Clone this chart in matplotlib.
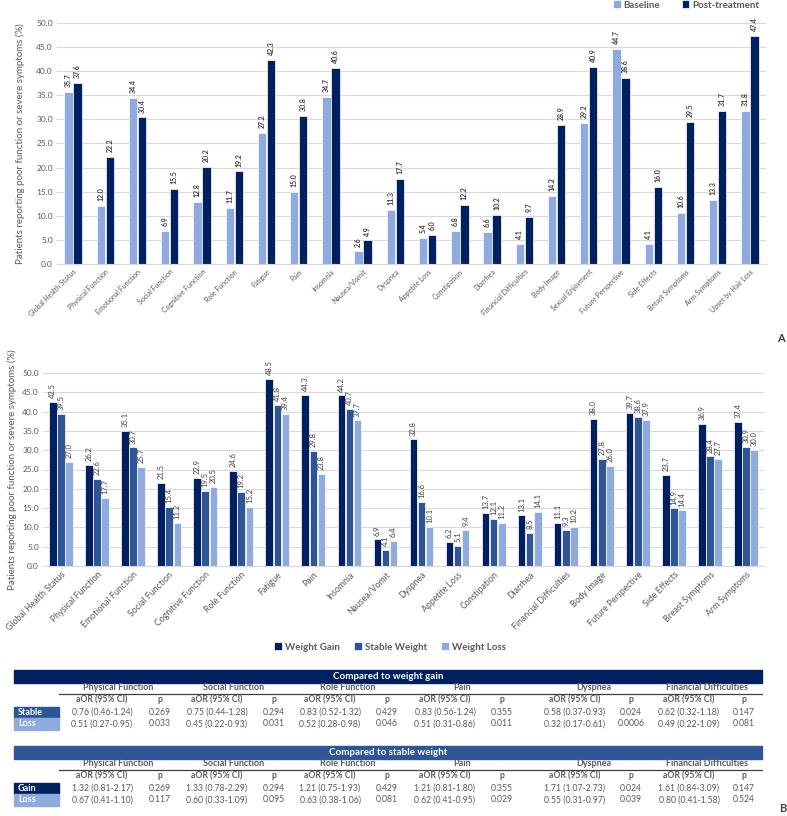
"""Baseline vs post-treatment QoL bars, weight-change bars and aOR tables."""
import numpy as np
import matplotlib
matplotlib.use("Agg")
import matplotlib.pyplot as plt
from matplotlib.patches import Rectangle

plt.rcParams["font.family"] = ["Lato", "DejaVu Sans"]

NAVY, MID, LIGHT = "#002060", "#2F5597", "#8FAADC"
GREY, GRID = "#595959", "#D9D9D9"

# ---- panel A data
cats_a = ["Global Health Status", "Physical Function", "Emotional Function", "Social Function",
          "Cognitive Function", "Role Function", "Fatigue", "Pain", "Insomnia", "Nausea/Vomit",
          "Dyspnea", "Appetite Loss", "Constipation", "Diarrhea", "Financial Difficulties",
          "Body Image", "Sexual Enjoyment", "Future Perspective", "Side Effects",
          "Breast Symptoms", "Arm Symptoms", "Upset by Hair Loss"]
baseline = [35.7, 12.0, 34.4, 6.9, 12.8, 11.7, 27.2, 15.0, 34.7, 2.6, 11.3,
            5.4, 6.8, 6.6, 4.1, 14.2, 29.2, 44.7, 4.1, 10.6, 13.3, 31.8]
post = [37.6, 22.2, 30.4, 15.5, 20.2, 19.2, 42.3, 30.8, 40.6, 4.9, 17.7,
        6.0, 12.2, 10.2, 9.7, 28.9, 40.9, 38.6, 16.0, 29.5, 31.7, 47.4]

# ---- panel B data
cats_b = ["Global Health Status", "Physical Function", "Emotional Function", "Social Function",
          "Cognitive Function", "Role Function", "Fatigue", "Pain", "Insomnia", "Nausea/Vomit",
          "Dyspnea", "Appetite Loss", "Constipation", "Diarrhea", "Financial Difficulties",
          "Body Image", "Future Perspective", "Side Effects", "Breast Symptoms", "Arm Symptoms"]
gain = [42.5, 26.2, 35.1, 21.5, 22.9, 24.6, 48.5, 44.3, 44.2, 6.9,
        32.8, 6.2, 13.7, 13.1, 11.1, 38.0, 39.7, 23.7, 36.9, 37.4]
stable = [39.5, 22.6, 30.7, 15.4, 19.5, 19.2, 41.8, 29.8, 40.7, 4.1,
          16.6, 5.1, 12.1, 8.5, 9.3, 27.8, 38.6, 14.9, 28.4, 30.9]
loss = [27.0, 17.7, 25.7, 11.2, 20.5, 15.2, 39.4, 23.8, 37.7, 6.4,
        10.1, 9.4, 11.2, 14.1, 10.2, 26.0, 37.9, 14.4, 27.7, 30.0]

# ---- tables
domains = ["Physical Function", "Social Function", "Role Function", "Pain", "Dyspnea",
           "Financial Difficulties"]
t1_rows = ["Stable", "Loss"]
t1_aor = [["0.76 (0.46-1.24)", "0.75 (0.44-1.28)", "0.83 (0.52-1.32)", "0.83 (0.56-1.24)",
           "0.58 (0.37-0.93)", "0.62 (0.32-1.18)"],
          ["0.51 (0.27-0.95)", "0.45 (0.22-0.93)", "0.52 (0.28-0.98)", "0.51 (0.31-0.86)",
           "0.32 (0.17-0.61)", "0.49 (0.22-1.09)"]]
t1_p = [["0.269", "0.294", "0.429", "0.355", "0.024", "0.147"],
        ["0.033", "0.031", "0.046", "0.011", "0.0006", "0.081"]]
t2_rows = ["Gain", "Loss"]
t2_aor = [["1.32 (0.81-2.17)", "1.33 (0.78-2.29)", "1.21 (0.75-1.93)", "1.21 (0.81-1.80)",
           "1.71 (1.07-2.73)", "1.61 (0.84-3.09)"],
          ["0.67 (0.41-1.10)", "0.60 (0.33-1.09)", "0.63 (0.38-1.06)", "0.62 (0.41-0.95)",
           "0.55 (0.31-0.97)", "0.80 (0.41-1.58)"]]
t2_p = [["0.269", "0.294", "0.429", "0.355", "0.024", "0.147"],
        ["0.117", "0.095", "0.081", "0.029", "0.039", "0.524"]]

W, H = 787, 816
fig = plt.figure(figsize=(W / 100, H / 100), dpi=100)


def fx(px):
    return px / W


def fy(py):
    return 1 - py / H


def style_axes(ax, cats, fs):
    ax.set_ylim(0, 50)
    ax.set_yticks(np.arange(0, 50.1, 5))
    ax.set_yticklabels([f"{v:.1f}" for v in np.arange(0, 50.1, 5)], fontsize=6, color=GREY)
    ax.set_xlim(-0.5, len(cats) - 0.5)
    ax.set_xticks(range(len(cats)))
    ax.set_xticklabels(cats, rotation=45, ha="right", rotation_mode="anchor",
                       fontsize=fs, color=GREY)
    ax.tick_params(length=0, pad=3)
    ax.grid(axis="y", color=GRID, lw=0.8)
    ax.set_axisbelow(True)
    for s in ["top", "right", "left"]:
        ax.spines[s].set_visible(False)
    ax.spines["bottom"].set_color(GRID)
    ax.set_ylabel("Patients reporting poor function or severe symptoms (%)",
                  fontsize=7, color=GREY)


def bar_labels(ax, xs, vals, bold, fs):
    for x, v in zip(xs, vals):
        ax.text(x, v + 1.0, f"{v:.1f}", rotation=90, ha="center", va="bottom",
                fontsize=fs, color="#404040", fontweight="bold" if bold else "normal")


# ---- panel A
axA = fig.add_axes([fx(57), fy(264), fx(766 - 57), (264 - 23) / H])
x = np.arange(len(cats_a))
bw = 0.26
axA.bar(x - bw / 2 - 0.01, baseline, bw, color=LIGHT, edgecolor="white", lw=0.5, label="Baseline")
axA.bar(x + bw / 2 + 0.01, post, bw, color=NAVY, edgecolor="white", lw=0.5, label="Post-treatment")
bar_labels(axA, x - bw / 2 - 0.01, baseline, True, 5)
bar_labels(axA, x + bw / 2 + 0.01, post, True, 5)
style_axes(axA, cats_a, 5)
axA.yaxis.labelpad = 8
fig.legend(*axA.get_legend_handles_labels(), loc="center", bbox_to_anchor=(fx(686), fy(5)),
           ncol=2, frameon=False, handlelength=0.8, handleheight=0.8,
           handletextpad=0.3, columnspacing=2.2, labelcolor=GREY,
           prop={"weight": "bold", "size": 7})
fig.text(fx(781), fy(338), "A", fontsize=8, fontweight="bold", color="#404040",
         ha="center", va="center")

# ---- panel B
axB = fig.add_axes([fx(43), fy(566), fx(764 - 43), (566 - 373) / H])
x = np.arange(len(cats_b))
bw = 0.21
off = 0.225
axB.bar(x - off, gain, bw, color=NAVY, edgecolor="white", lw=0.5, label="Weight Gain")
axB.bar(x, stable, bw, color=MID, edgecolor="white", lw=0.5, label="Stable Weight")
axB.bar(x + off, loss, bw, color=LIGHT, edgecolor="white", lw=0.5, label="Weight Loss")
bar_labels(axB, x - off, gain, False, 5.5)
bar_labels(axB, x, stable, False, 5.5)
bar_labels(axB, x + off, loss, False, 5.5)
style_axes(axB, cats_b, 6.3)
axB.yaxis.labelpad = 4
fig.legend(*axB.get_legend_handles_labels(), loc="center", bbox_to_anchor=(fx(390), fy(647)),
           ncol=3, frameon=False, handlelength=0.8, handleheight=0.8,
           handletextpad=0.3, columnspacing=1.5, labelcolor=GREY,
           prop={"weight": "bold", "size": 7})


# ---- tables (drawn in figure pixel coordinates)
grp_x = [118, 234, 348, 462, 594, 707]
aor_x = [102, 217, 330, 445, 575, 689]
p_x = [160, 274, 387, 502, 631, 744]


def draw_table(top, title, head_col, rows, row_cols, aor, pv):
    fig.patches.append(Rectangle((fx(14), fy(top + 13)), fx(762 - 14), 13 / H,
                                 transform=fig.transFigure, color=head_col))
    fig.text(fx(388), fy(top + 6.5), title, ha="center", va="center", fontsize=7,
             fontweight="bold", color="white")
    for gx, d in zip(grp_x, domains):
        fig.text(fx(gx), fy(top + 18), d, ha="center", va="center", fontsize=6.5,
                 fontweight="bold", color=GREY)
    fig.add_artist(plt.Line2D([fx(59), fx(762)], [fy(top + 24), fy(top + 24)],
                              color="#404040", lw=0.9))
    for ax_, px_ in zip(aor_x, p_x):
        fig.text(fx(ax_), fy(top + 30), "aOR (95% CI)", ha="center", va="center",
                 fontsize=6.2, fontweight="bold", color=GREY)
        fig.text(fx(px_), fy(top + 30), "p", ha="center", va="center",
                 fontsize=6.2, fontweight="bold", color=GREY)
    for i, (rname, rc) in enumerate(zip(rows, row_cols)):
        yc = top + 42.5 + 11.5 * i
        fig.patches.append(Rectangle((fx(14), fy(yc + 5.8)), fx(45), 11.5 / H,
                                     transform=fig.transFigure, color=rc))
        fig.text(fx(18), fy(yc), rname, ha="left", va="center", fontsize=6.5,
                 fontweight="bold", color="white")
        for j in range(len(domains)):
            fig.text(fx(aor_x[j]), fy(yc), aor[i][j], ha="center", va="center",
                     fontsize=6.2, color=GREY)
            fig.text(fx(p_x[j]), fy(yc), pv[i][j], ha="center", va="center",
                     fontsize=6.2, color=GREY)


draw_table(670, "Compared to weight gain", NAVY, t1_rows, [MID, LIGHT], t1_aor, t1_p)
draw_table(746, "Compared to stable weight", MID, t2_rows, [NAVY, LIGHT], t2_aor, t2_p)
fig.text(fx(783), fy(808), "B", fontsize=8, fontweight="bold", color="#404040",
         ha="center", va="center")

fig.savefig("out.png", dpi=100, facecolor="white")
